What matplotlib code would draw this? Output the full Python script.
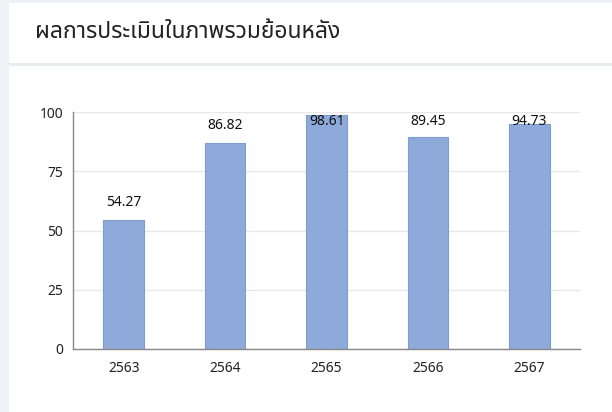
import matplotlib
matplotlib.use('Agg')
import matplotlib.pyplot as plt
from matplotlib.patches import Rectangle

years = ['2563', '2564', '2565', '2566', '2567']
scores = [54.27, 86.82, 98.61, 89.45, 94.73]
title = 'ผลการประเมินในภาพรวมย้อนหลัง'

plt.rcParams['font.family'] = ['Noto Sans', 'Noto Sans Thai', 'DejaVu Sans']

fig = plt.figure(figsize=(6.12, 4.12), dpi=100)
fig.patch.set_facecolor('#eef1f6')
# white card + header separator
fig.patches.append(Rectangle((9/612, 0), 1, 1 - 2.5/412, transform=fig.transFigure,
                             facecolor='white', edgecolor='none', zorder=-2))
fig.patches.append(Rectangle((9/612, (412-65.5)/412), 1, 2.5/412, transform=fig.transFigure,
                             facecolor='#e9ecef', edgecolor='none', zorder=-1))
fig.text(35/612, 1 - 32/412, title, fontsize=16.5, va='center', ha='left', color='#222222')

ax = fig.add_axes([73/612, 63/412, 507/612, 237/412])
ax.set_facecolor('none')
x = range(len(years))
ax.bar(x, scores, width=0.4, color='#8eaadb', edgecolor='#7f9ccf', linewidth=0.8, zorder=2)
# value labels sit above the bars but stay inside the plot area
for i, v in zip(x, scores):
    ax.text(i, min(v + 7.6, 96), f'{v:.2f}', ha='center', va='center', fontsize=10,
            color='#111111', zorder=3)
ax.set_xlim(-0.5, 4.5)
ax.set_ylim(0, 100)
ax.set_yticks([0, 25, 50, 75, 100])
ax.set_xticks(list(x))
ax.set_xticklabels(years)
ax.grid(axis='y', color='#e8e8e8', linewidth=1, zorder=0)
ax.tick_params(length=0, labelsize=10, colors='#222222')
ax.tick_params(axis='x', pad=9)
ax.tick_params(axis='y', pad=7)
for s in ['top', 'right']:
    ax.spines[s].set_visible(False)
for s in ['left', 'bottom']:
    ax.spines[s].set_color('#888888')
    ax.spines[s].set_linewidth(1)

fig.savefig('out.png', dpi=100, facecolor=fig.get_facecolor())
